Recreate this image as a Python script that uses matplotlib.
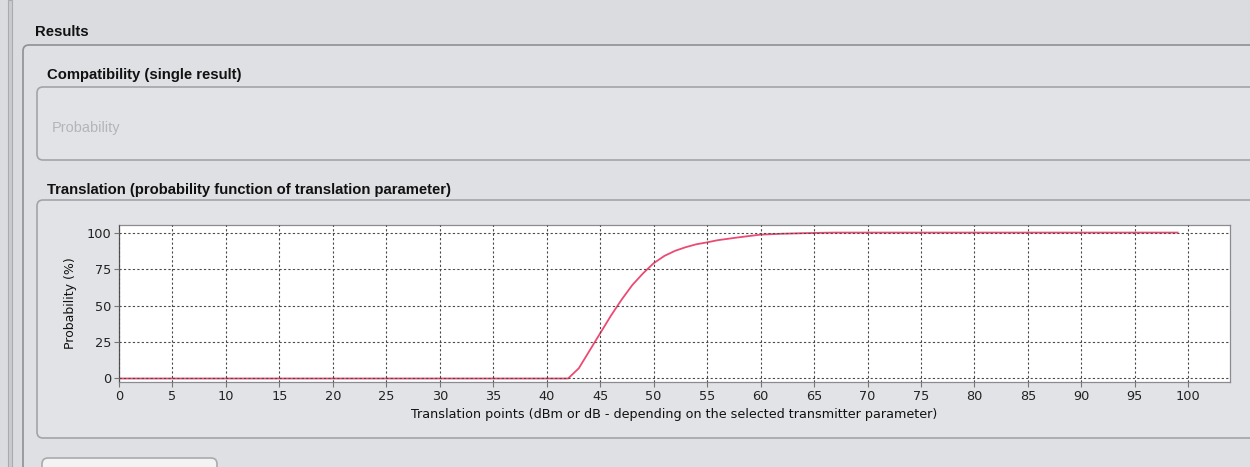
import matplotlib
matplotlib.use("Agg")
import matplotlib.pyplot as plt
from matplotlib.patches import FancyBboxPatch, Rectangle

# Probability (%) versus translation point
translation_points = [0, 42, 43, 44, 45, 46, 47, 48, 49, 50, 51, 52, 53, 54, 55,
                      56, 58, 60, 62, 64, 66, 67, 99]
probability_pct = [0, 0, 7, 19, 31, 43, 54, 64, 72, 79, 84, 87.5, 90, 92, 93.3,
                   94.8, 96.8, 98.6, 99.2, 99.6, 99.9, 100, 100]

x_ticks = list(range(0, 101, 5))
y_ticks = [0, 25, 50, 75, 100]

panel_title = "Results"
single_title = "Compatibility (single result)"
single_field = "Probability"
curve_title = "Translation (probability function of translation parameter)"
x_label = "Translation points (dBm or dB - depending on the selected transmitter parameter)"
y_label = "Probability (%)"

W, H = 1250, 467
head_font = "Liberation Sans"

fig = plt.figure(figsize=(W / 100, H / 100), dpi=100)
fig.patch.set_facecolor("#dadcdf")
renderer = fig.canvas.get_renderer()

# Window background drawn in pixel coordinates
bg = fig.add_axes([0, 0, 1, 1], zorder=0)
bg.set_xlim(0, W)
bg.set_ylim(H, 0)
bg.axis("off")

# outer frame edge on the left
bg.add_patch(Rectangle((8, 0), 4, H, facecolor="#c9cbce", edgecolor="#a9abae", lw=0.8))


def panel(x, y, w, h, face, edge="#9ea0a3", lw=1.2):
    bg.add_patch(FancyBboxPatch((x, y), w, h, boxstyle="round,pad=0,rounding_size=6",
                                facecolor=face, edgecolor=edge, lw=lw))


def fitted_text(x, y, s, width_px, **kw):
    """Place left-aligned text and set its size so it spans width_px."""
    t = bg.text(x, y, s, va="center", ha="left", fontsize=10, **kw)
    w = t.get_window_extent(renderer=renderer).width
    t.set_fontsize(10 * width_px / w)
    return t


panel(23, 45, W + 20, H, "#dfe0e3", edge="#8e9093")
panel(37, 87, W, 73, "#e2e3e6", edge="#a2a4a7")
panel(37, 200, W, 238, "#e2e3e6", edge="#a2a4a7")
panel(42, 458, 175, 40, "#f3f3f4", edge="#a8aaad")

fitted_text(35, 32, panel_title, 54, family=head_font, weight="bold", color="#111111")
fitted_text(47, 75, single_title, 196, family=head_font, weight="bold", color="#111111")
fitted_text(52, 128, single_field, 68, family=head_font, color="#b3b5b8")
fitted_text(47, 190, curve_title, 405, family=head_font, weight="bold", color="#111111")

# Chart
ax = fig.add_axes([119 / W, 1 - 382 / H, (1230 - 119) / W, (382 - 225) / H], zorder=2)
ax.set_facecolor("white")
ax.plot(translation_points, probability_pct, color="#ec4a72", lw=1.3, zorder=1)
ax.set_xlim(0, 103.9)
ax.set_ylim(-2.4, 105.2)
ax.set_xticks(x_ticks)
ax.set_yticks(y_ticks)
ax.grid(True, color="#4a4a4a", lw=0.8, linestyle=(0, (2, 2)), zorder=2)
ax.set_axisbelow(False)
for name, s in ax.spines.items():
    s.set_color("#8a8c8f")
    s.set_linewidth(0.9)
ax.spines["left"].set_color("#555555")
ax.tick_params(axis="both", direction="out", length=3.5, width=0.8, color="#777777",
               labelsize=9.3, labelcolor="#222222", pad=2)
for lab in ax.get_xticklabels() + ax.get_yticklabels():
    lab.set_family("DejaVu Sans")
ax.set_xlabel(x_label, fontsize=9.2, family="DejaVu Sans", color="#111111", labelpad=4)
ax.set_ylabel(y_label, fontsize=9.0, family="DejaVu Sans", color="#111111", labelpad=7)

fig.savefig("out.png", dpi=100, facecolor=fig.get_facecolor())
